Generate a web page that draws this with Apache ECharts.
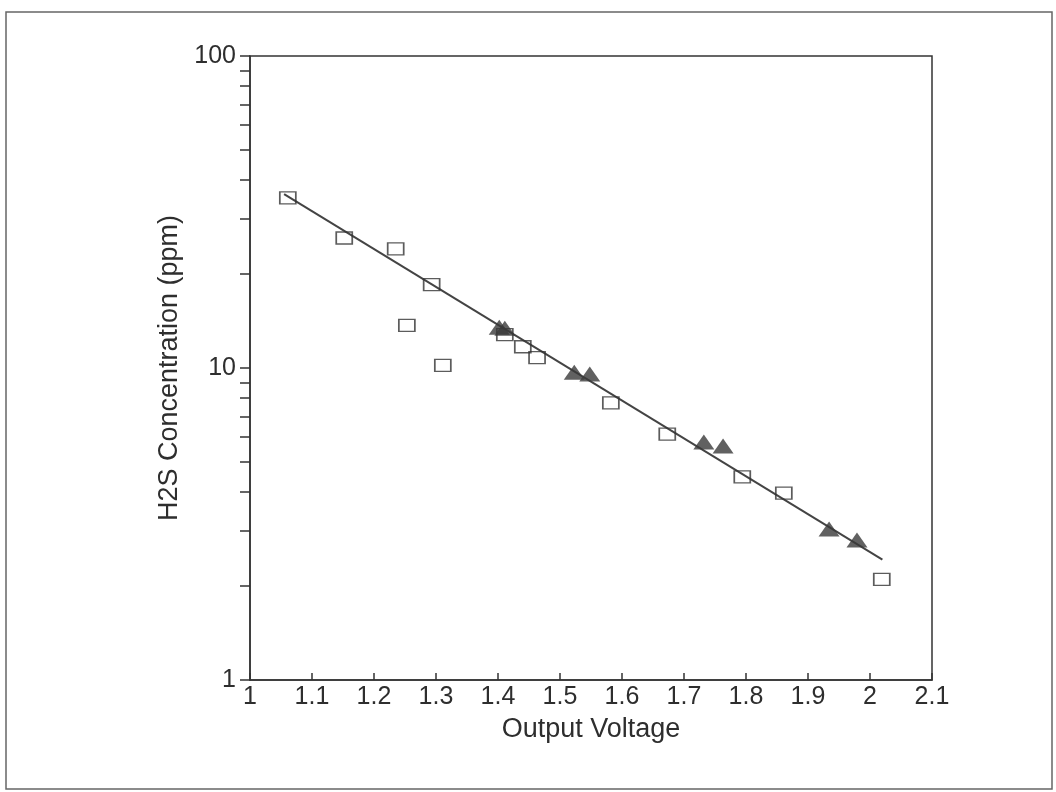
<!DOCTYPE html>
<html>
<head>
<meta charset="utf-8">
<script src="https://cdn.jsdelivr.net/npm/echarts@6/dist/echarts.min.js"></script>
<style>html,body{margin:0;padding:0;background:#fff;}#c{width:1056px;height:792px;}</style>
</head>
<body>
<div id="c"></div>
<script>
// Open squares: [output voltage, H2S ppm]
var squarePoints = [
  [1.061, 35.1], [1.152, 26.1], [1.235, 24.1], [1.293, 18.5], [1.253, 13.7],
  [1.311, 10.2], [1.411, 12.8], [1.440, 11.7], [1.463, 10.8], [1.582, 7.73],
  [1.673, 6.14], [1.794, 4.48], [1.861, 3.97], [2.019, 2.10]
];
// Filled triangles
var trianglePoints = [
  [1.402, 13.5], [1.411, 13.4], [1.523, 9.7], [1.548, 9.57],
  [1.732, 5.79], [1.763, 5.62], [1.934, 3.05], [1.979, 2.81]
];
// Fitted line end points
var fitLine = [[1.055, 36.1], [2.02, 2.43]];
var yTickValues = [1,2,3,4,5,6,7,8,9,10,20,30,40,50,60,70,80,90,100];
var xLabel = 'Output Voltage';
var yLabel = 'H2S Concentration (ppm)';

var chart = echarts.init(document.getElementById('c'));
var font = 'Liberation Sans, Arial, sans-serif';
var txt = '#2e2e2e';
chart.setOption({
  animation: false,
  backgroundColor: '#fff',
  graphic: [{
    type: 'rect', shape: {x: 6, y: 12, width: 1046, height: 777},
    style: {fill: 'none', stroke: '#666', lineWidth: 1.5}, silent: true
  }],
  grid: {left: 250, right: 124, top: 56, bottom: 112, show: true, borderColor: '#333', borderWidth: 1.5, backgroundColor: 'transparent'},
  xAxis: {
    type: 'value', min: 1, max: 2.1, interval: 0.1,
    name: xLabel, nameLocation: 'middle', nameGap: 36,
    nameTextStyle: {fontFamily: font, fontSize: 27, color: txt},
    axisLine: {show: true, lineStyle: {color: '#333', width: 1.5}},
    axisTick: {show: true, inside: true, length: 7, lineStyle: {color: '#333', width: 1.5}},
    axisLabel: {margin: 5, fontFamily: font, fontSize: 25, color: txt,
      formatter: function (v) { return String(+v.toFixed(1)); }},
    splitLine: {show: false}
  },
  yAxis: {
    type: 'log', logBase: 10, min: 1, max: 100,
    name: yLabel, nameLocation: 'middle', nameGap: 60, nameRotate: 90,
    nameTextStyle: {fontFamily: font, fontSize: 27, color: txt},
    axisLine: {show: true, lineStyle: {color: '#333', width: 1.5}},
    axisTick: {show: true, inside: false, length: 10, customValues: yTickValues, lineStyle: {color: '#333', width: 1.5}},
    axisLabel: {margin: 14, fontFamily: font, fontSize: 25, color: txt},
    splitLine: {show: false}
  },
  series: [
    {
      type: 'line', data: fitLine, showSymbol: false, symbol: 'none', z: 2,
      lineStyle: {color: '#444', width: 2}
    },
    {
      type: 'scatter', data: squarePoints, symbol: 'rect', symbolSize: [16, 12], z: 3,
      itemStyle: {color: 'rgba(255,255,255,0)', borderColor: '#333', borderWidth: 1.5}
    },
    {
      type: 'scatter', data: trianglePoints, symbol: 'triangle', symbolSize: [21, 15], z: 4,
      itemStyle: {color: '#3a3a3a'}
    }
  ]
});
</script>
</body>
</html>
